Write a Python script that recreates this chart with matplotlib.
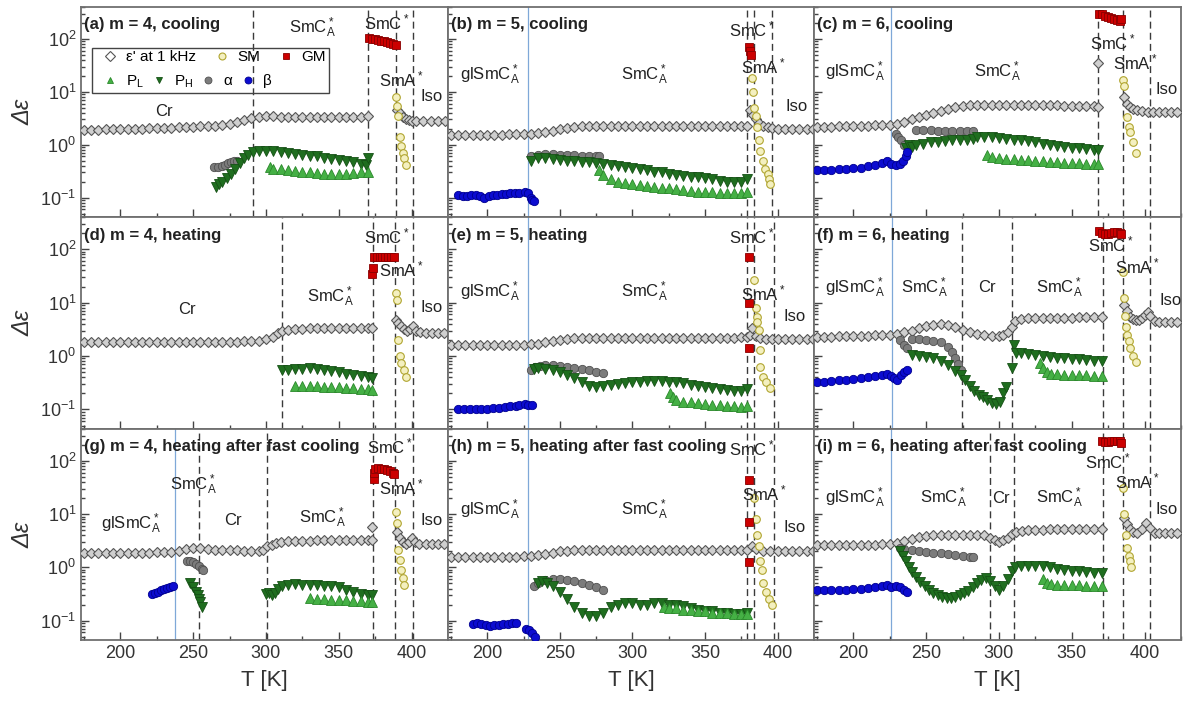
import matplotlib
matplotlib.use('Agg')
import matplotlib.pyplot as plt
from matplotlib.ticker import MultipleLocator, LogLocator, NullFormatter
from matplotlib.lines import Line2D
from matplotlib.patches import Rectangle

plt.rcParams['font.family'] = ['Liberation Sans', 'DejaVu Sans']
plt.rcParams['mathtext.default'] = 'regular'
plt.rcParams['xtick.direction'] = 'in'
plt.rcParams['ytick.direction'] = 'in'

# =============================================================================
# data: (T [K], delta eps)
# =============================================================================
# %% (a) m = 4, cooling
a_eps = [(175,1.9),(180,1.9),(185,1.9),(190,1.95),(195,1.95),(200,1.95),(205,2.0),(210,2.0),(215,2.0),(220,2.05),
         (225,2.05),(230,2.1),(235,2.1),(240,2.15),(245,2.2),(250,2.2),(255,2.25),(260,2.25),(265,2.3),(270,2.4),
         (275,2.5),(280,2.7),(285,2.9),(290,3.2),(295,3.4),(300,3.45),(305,3.45),(310,3.4),(315,3.4),(320,3.4),
         (325,3.4),(330,3.4),(335,3.4),(340,3.4),(345,3.4),(350,3.4),(355,3.4),(360,3.4),(365,3.4),(370,3.45),
         (390,4.6),(392,3.9),(394,3.4),(396,3.1),(398,2.95),(400,2.85),(403,2.8),(408,2.8),(413,2.8),(418,2.8),(423,2.8)]
a_sm = [(389,8),(390,5.5),(391,3.5),(392,1.4),(393,0.95),(394,0.7),(395,0.55),(396,0.42)]
a_gm = [(371,105),(373,100),(375,98),(377,95),(379,93),(381,90),(383,88),(385,85),(387,80),(389,78)]
a_pl = [(303,0.38),(305,0.35),(310,0.34),(315,0.33),(320,0.32),(325,0.31),(330,0.3),(335,0.29),(340,0.28),
        (345,0.28),(350,0.28),(355,0.28),(360,0.29),(365,0.3),(370,0.3)]
a_ph = [(266,0.16),(268,0.18),(270,0.2),(273,0.23),(276,0.28),(279,0.35),(282,0.45),(285,0.55),(288,0.65),
        (291,0.72),(295,0.76),(300,0.77),(305,0.75),(310,0.73),(315,0.7),(320,0.68),(325,0.65),(330,0.62),
        (335,0.6),(340,0.57),(345,0.54),(350,0.52),(355,0.5),(360,0.47),(365,0.44),(369,0.42),(370,0.55)]
a_al = [(264,0.38),(267,0.38),(270,0.4),(272,0.42),(274,0.45),(276,0.48),(278,0.5),(280,0.5)]
a_be = []
a_dash = [291, 370, 389, 401]
a_blue = []
a_text = [(230,4.2,'Cr'),(332,160,'SmC$_A^*$'),(383,200,'SmC$^*$'),(393,17,'SmA$^*$'),(414,8,'Iso')]

# %% (b) m = 5, cooling
b_eps = [(175,1.55),(180,1.55),(185,1.55),(190,1.55),(195,1.55),(200,1.55),(205,1.55),(210,1.55),(215,1.57),
         (220,1.58),(225,1.6),(230,1.62),(235,1.68),(240,1.75),(245,1.85),(250,1.95),(255,2.05),(260,2.15),
         (265,2.22),(270,2.28),(275,2.3),(280,2.3),(285,2.3),(290,2.3),(295,2.3),(300,2.28),(305,2.28),
         (310,2.28),(315,2.28),(320,2.27),(325,2.27),(330,2.27),(335,2.27),(340,2.26),(345,2.26),(350,2.26),
         (355,2.25),(360,2.25),(365,2.25),(370,2.25),(375,2.25),(379,2.3),
         (381,4.6),(383,3.6),(385,3.0),(387,2.6),(390,2.3),(393,2.15),(396,2.05),(400,2.0),(405,2.0),
         (410,2.0),(415,2.0),(420,2.0),(424,2.0)]
b_sm = [(382,18),(383,10),(384,5),(385,3.5),(386,2.2),(387,1.2),(388,0.75),(390,0.5),(391,0.35),(393,0.28),
        (394,0.22),(395,0.18)]
b_gm = [(380,70),(381,60),(381.5,50)]
b_pl = [(277,0.33),(280,0.27),(285,0.22),(290,0.2),(295,0.19),(300,0.18),(305,0.17),(310,0.165),(315,0.16),
        (320,0.155),(325,0.15),(330,0.145),(335,0.14),(340,0.135),(345,0.13),(350,0.13),(355,0.125),(360,0.12),
        (365,0.12),(370,0.12),(375,0.12),(379,0.13)]
b_ph = [(230,0.5),(235,0.55),(240,0.55),(245,0.53),(250,0.52),(255,0.5),(260,0.5),(265,0.48),(270,0.47),
        (275,0.46),(280,0.44),(285,0.42),(290,0.4),(295,0.38),(300,0.36),(305,0.34),(310,0.33),(315,0.31),
        (320,0.3),(325,0.28),(330,0.27),(335,0.26),(340,0.25),(345,0.24),(350,0.23),(355,0.22),(360,0.21),
        (365,0.2),(370,0.2),(375,0.2),(379,0.22)]
b_al = [(230,0.6),(235,0.65),(240,0.66),(245,0.66),(250,0.65),(255,0.64),(260,0.63),(265,0.62),(270,0.62),
        (275,0.6),(277,0.6)]
b_be = [(180,0.11),(183,0.105),(186,0.105),(189,0.11),(192,0.11),(195,0.105),(198,0.1),(201,0.105),(204,0.11),
        (207,0.11),(210,0.115),(213,0.115),(216,0.12),(219,0.12),(222,0.12),(226,0.13),(228,0.12),(230,0.1),
        (231,0.09),(232,0.085)]
b_dash = [379, 384, 396]
b_blue = [228]
b_text = [(202,21,'glSmC$_A^*$'),(308,21,'SmC$_A^*$'),(382,150,'SmC$^*$'),(390,30,'SmA$^*$'),(413,5.2,'Iso')]

# %% (c) m = 6, cooling
c_eps = [(175,2.2),(180,2.2),(185,2.2),(190,2.25),(195,2.25),(200,2.3),(205,2.3),(210,2.3),(215,2.35),(220,2.35),
         (225,2.4),(230,2.5),(235,2.7),(240,3.0),(245,3.3),(250,3.6),(255,3.9),(260,4.3),(265,4.7),(270,5.1),
         (275,5.4),(280,5.6),(285,5.7),(290,5.7),(295,5.7),(300,5.7),(305,5.7),(310,5.65),(315,5.65),(320,5.6),
         (325,5.6),(330,5.6),(335,5.6),(340,5.55),(345,5.5),(350,5.5),(355,5.45),(360,5.4),(365,5.3),(368,5.2),
         (368,35),
         (386,8),(388,6),(390,5.2),(392,4.8),(395,4.5),(398,4.3),(402,4.2),(406,4.2),(410,4.2),(414,4.2),
         (418,4.2),(422,4.2)]
c_sm = [(385,17),(386,13),(388,3.4),(389,2.2),(390,1.7),(392,1.1),(394,0.7)]
c_gm = [(369,300),(371,290),(373,270),(375,260),(377,250),(379,240),(381,230),(383,220),(384,240)]
c_pl = [(292,0.65),(295,0.58),(300,0.56),(305,0.54),(310,0.53),(315,0.52),(320,0.51),(325,0.5),(330,0.49),
        (335,0.48),(340,0.47),(345,0.46),(350,0.45),(355,0.45),(360,0.44),(365,0.44),(368,0.43)]
c_ph = [(236,0.85),(238,1.0),(240,0.9),(243,1.0),(248,1.05),(253,1.1),(258,1.1),(263,1.15),(268,1.2),(273,1.2),
        (278,1.25),(282,1.3),(285,1.4),(290,1.4),(295,1.38),(300,1.35),(305,1.3),(310,1.25),(315,1.2),
        (320,1.15),(325,1.1),(330,1.05),(335,1.0),(340,0.96),(345,0.92),(350,0.88),(355,0.85),(360,0.82),
        (365,0.8),(368,0.78)]
c_al = [(229,1.6),(231,1.4),(233,1.2),(235,1.0),(243,1.9),(248,1.9),(253,1.9),(258,1.85),(263,1.85),(268,1.85),
        (273,1.8),(278,1.8),(282,1.8)]
c_be = [(175,0.33),(180,0.33),(185,0.33),(190,0.34),(195,0.35),(200,0.36),(205,0.37),(210,0.39),(215,0.42),
        (220,0.45),(223,0.5),(226,0.44),(229,0.42),(232,0.43),(234,0.5),(236,0.6),(237,0.72)]
c_dash = [368, 385, 403.5]
c_blue = [226]
c_text = [(201,24,'glSmC$_A^*$'),(299,24,'SmC$_A^*$'),(378,84,'SmC$^*$'),(394,36,'SmA$^*$'),(415,11,'Iso')]

# %% (d) m = 4, heating
d_eps = [(175,1.85),(180,1.85),(185,1.85),(190,1.85),(195,1.85),(200,1.85),(205,1.85),(210,1.85),(215,1.85),
         (220,1.85),(225,1.85),(230,1.85),(235,1.85),(240,1.85),(245,1.85),(250,1.85),(255,1.85),(260,1.85),
         (265,1.85),(270,1.85),(275,1.85),(280,1.85),(285,1.9),(290,1.9),(295,1.95),(300,2.05),(305,2.3),
         (308,2.7),(311,3.0),(315,3.1),(320,3.2),(325,3.25),(330,3.3),(335,3.3),(340,3.3),(345,3.3),(350,3.3),
         (355,3.3),(360,3.3),(365,3.3),(370,3.3),(373,3.3),
         (389,4.8),(391,4.2),(393,3.6),(395,3.2),(397,3.0),(399,3.2),(401,3.6),(403,3.0),(406,2.8),(410,2.7),
         (414,2.7),(418,2.7),(422,2.7)]
d_sm = [(389,15),(390,11),(390.5,2.0),(392,1.0),(393,0.74),(394.5,0.55),(396,0.4)]
d_gm = [(373,35),(373.5,45),(374,70),(376,70),(378,70),(380,70),(382,70),(384,70),(386,70),(388,70)]
d_pl = [(320,0.28),(325,0.27),(330,0.27),(335,0.27),(340,0.26),(345,0.26),(350,0.26),(355,0.25),(360,0.25),
        (365,0.24),(370,0.24),(373,0.23)]
d_ph = [(311,0.55),(315,0.55),(320,0.57),(325,0.58),(330,0.6),(335,0.58),(340,0.55),(345,0.52),(350,0.5),
        (355,0.47),(360,0.44),(365,0.42),(370,0.4),(373,0.38)]
d_al = []
d_be = []
d_dash = [311, 373.5, 388.6, 401]
d_blue = []
d_text = [(246,7.4,'Cr'),(344,13,'SmC$_A^*$'),(383,170,'SmC$^*$'),(393,42,'SmA$^*$'),(414,8,'Iso')]

# %% (e) m = 5, heating
e_eps = [(175,1.6),(180,1.6),(185,1.6),(190,1.6),(195,1.6),(200,1.6),(205,1.6),(210,1.6),(215,1.6),(220,1.6),
         (225,1.6),(230,1.65),(235,1.7),(240,1.8),(245,1.9),(250,2.0),(255,2.1),(260,2.15),(265,2.2),(270,2.2),
         (275,2.2),(280,2.2),(285,2.2),(290,2.2),(295,2.2),(300,2.2),(305,2.2),(310,2.2),(315,2.2),(320,2.2),
         (325,2.2),(330,2.2),(335,2.2),(340,2.2),(345,2.2),(350,2.2),(355,2.2),(360,2.2),(365,2.2),(370,2.2),
         (375,2.25),(379,2.25),
         (381,2.5),(382,3.4),(385,2.4),(388,2.2),(392,2.1),(396,2.1),(400,2.05),(405,2.05),(410,2.05),
         (415,2.05),(420,2.05),(424,2.05)]
e_sm = [(384,27),(385,8),(385.5,5.4),(386,4.4),(387,3.1),(387.5,1.3),(388,0.62),(390,0.4),(392,0.32),(395,0.25)]
e_gm = [(380,70),(380.5,10),(380,1.4)]
e_pl = [(326,0.2),(328,0.17),(330,0.15),(335,0.14),(340,0.135),(345,0.13),(350,0.125),(355,0.12),(360,0.12),
        (365,0.115),(370,0.115),(375,0.11),(379,0.115)]
e_ph = [(232,0.58),(235,0.6),(240,0.58),(245,0.55),(250,0.5),(255,0.45),(260,0.38),(265,0.32),(270,0.28),
        (275,0.26),(280,0.27),(285,0.29),(290,0.3),(295,0.31),(300,0.32),(305,0.33),(310,0.34),(315,0.34),
        (320,0.34),(325,0.33),(330,0.32),(335,0.31),(340,0.29),(345,0.28),(350,0.26),(355,0.25),(360,0.24),
        (365,0.23),(370,0.22),(375,0.22),(379,0.24)]
e_al = [(230,0.55),(233,0.62),(236,0.66),(240,0.68),(245,0.67),(250,0.65),(255,0.63),(260,0.6),(265,0.57),
        (270,0.54),(275,0.51),(280,0.48)]
e_be = [(180,0.1),(184,0.1),(188,0.1),(192,0.1),(196,0.1),(200,0.1),(204,0.105),(208,0.105),(212,0.11),
        (216,0.115),(220,0.115),(222,0.12),(226,0.125),(228,0.12),(231,0.12)]
e_dash = [379, 384, 397.5]
e_blue = [228]
e_text = [(202,16,'glSmC$_A^*$'),(308,16,'SmC$_A^*$'),(382,170,'SmC$^*$'),(390,15,'SmA$^*$'),(412,5.4,'Iso')]

# %% (f) m = 6, heating
f_eps = [(175,2.3),(180,2.3),(185,2.3),(190,2.35),(195,2.35),(200,2.4),(205,2.4),(210,2.4),(215,2.45),(220,2.45),
         (225,2.5),(230,2.6),(235,2.8),(240,3.0),(245,3.3),(250,3.6),(255,3.8),(260,3.9),(265,3.8),(270,3.5),
         (275,3.1),(280,2.8),(285,2.6),(290,2.5),(295,2.4),(300,2.4),(303,2.5),(306,2.8),(309,3.5),(311,4.5),
         (315,5.0),(320,5.1),(325,5.2),(330,5.2),(335,5.2),(340,5.2),(345,5.25),(350,5.25),(355,5.3),(360,5.3),
         (365,5.3),(371,5.3),
         (386,9.2),(388,7),(390,5.4),(392,5.0),(394,4.8),(396,4.7),(398,5.2),(400,5.8),(402,6.8),(404,5.5),
         (407,4.6),(410,4.4),(414,4.4),(418,4.4),(422,4.4)]
f_sm = [(385,37),(386,12),(386.5,5.5),(387,3.5),(388,2.5),(389,1.9),(390,1.4),(392,1.0),(394,0.78)]
f_gm = [(369,220),(371,200),(373,190),(375,190),(377,200),(379,210),(381,210),(383,200),(384,190)]
f_pl = [(328,0.75),(330,0.6),(333,0.5),(336,0.47),(340,0.46),(345,0.45),(350,0.45),(355,0.44),(360,0.44),
        (365,0.43),(371,0.43)]
f_ph = [(240,1.05),(245,1.0),(250,0.97),(255,0.92),(260,0.82),(265,0.68),(270,0.52),(274,0.45),(277,0.35),
        (280,0.27),(283,0.22),(286,0.19),(289,0.17),(292,0.15),(295,0.13),(298,0.125),(301,0.14),(303,0.2),
        (305,0.26),(309,0.6),(310,1.6),(312,1.15),(315,1.15),(320,1.1),(325,1.05),(330,1.0),(335,0.95),
        (340,0.92),(345,0.9),(350,0.88),(355,0.86),(360,0.84),(365,0.82),(371,0.82)]
f_al = [(232,2.0),(235,1.6),(237,1.4),(240,2.1),(245,2.1),(250,2.0),(255,1.95),(260,1.8),(265,1.5),(268,1.2),
        (270,0.9),(272,0.7),(274,0.55)]
f_be = [(175,0.33),(180,0.33),(185,0.34),(190,0.35),(195,0.36),(200,0.37),(205,0.38),(210,0.4),(215,0.42),
        (220,0.45),(223,0.47),(226,0.42),(228,0.38),(230,0.36),(233,0.45),(235,0.5),(237,0.55)]
f_dash = [274.5, 309, 371.5, 385, 403.5]
f_blue = [226.5]
f_text = [(201,19,'glSmC$_A^*$'),(249,19,'SmC$_A^*$'),(291.5,19,'Cr'),(341.5,19,'SmC$_A^*$'),
          (377,120,'SmC$^*$'),(395,48,'SmA$^*$'),(418,11,'Iso')]

# %% (g) m = 4, heating after fast cooling
g_eps = [(175,1.9),(180,1.9),(185,1.9),(190,1.9),(195,1.9),(200,1.9),(205,1.9),(210,1.9),(215,1.9),(220,1.9),
         (225,1.95),(230,1.95),(235,1.95),(240,2.05),(245,2.2),(250,2.3),(255,2.3),(260,2.2),(265,2.15),
         (270,2.1),(275,2.1),(280,2.1),(285,2.05),(290,2.05),(295,2.05),(298,2.1),(301,2.5),(304,2.6),
         (307,2.9),(310,3.0),(315,3.1),(320,3.1),(325,3.15),(330,3.15),(335,3.2),(340,3.2),(345,3.2),(350,3.2),
         (355,3.2),(360,3.2),(365,3.2),(370,3.2),(373,3.2),(373,5.7),
         (390,4.6),(392,3.6),(394,3.0),(396,2.8),(398,3.0),(400,3.5),(402,3.0),(405,2.8),(410,2.8),(414,2.8),
         (418,2.8),(422,2.8)]
g_sm = [(389,11),(390,6.7),(391,2.1),(392,1.35),(393,0.88),(394,0.62),(395,0.46)]
g_gm = [(374,45),(374,60),(375,70),(377,75),(379,72),(381,70),(383,68),(385,65),(387,60),(388,58)]
g_pl = [(330,0.26),(335,0.25),(340,0.25),(345,0.24),(350,0.24),(355,0.24),(360,0.23),(365,0.23),(370,0.22),
        (373,0.22)]
g_ph = [(248,0.5),(250,0.42),(252,0.35),(253,0.3),(254,0.25),(255,0.22),(256,0.18),
        (300,0.32),(302,0.33),(304,0.3),(306,0.33),(308,0.4),(311,0.45),(315,0.47),(320,0.48),(325,0.47),
        (330,0.46),(335,0.46),(340,0.45),(345,0.44),(350,0.42),(355,0.38),(360,0.35),(365,0.32),(370,0.3),
        (373,0.3)]
g_al = [(246,1.3),(248,1.3),(250,1.25),(252,1.15),(254,1.05),(256,0.95),(257,0.88)]
g_be = [(222,0.32),(224,0.33),(226,0.35),(228,0.37),(230,0.39),(232,0.41),(234,0.43),(236,0.45)]
g_dash = [254, 300.7, 373.5, 388.6, 401]
g_blue = [237.6]
g_text = [(207,6.7,'glSmC$_A^*$'),(250,35,'SmC$_A^*$'),(277,7.7,'Cr'),(339,8.4,'SmC$_A^*$'),
          (385,184,'SmC$^*$'),(393,32,'SmA$^*$'),(414,7.7,'Iso')]

# %% (h) m = 5, heating after fast cooling
h_eps = [(175,1.55),(180,1.55),(185,1.55),(190,1.55),(195,1.55),(200,1.55),(205,1.55),(210,1.55),(215,1.55),
         (220,1.58),(225,1.6),(230,1.62),(235,1.7),(240,1.8),(245,1.9),(250,2.0),(255,2.05),(260,2.1),
         (265,2.1),(270,2.1),(275,2.1),(280,2.1),(285,2.1),(290,2.1),(295,2.1),(300,2.1),(305,2.1),(310,2.1),
         (315,2.1),(320,2.1),(325,2.1),(330,2.1),(335,2.1),(340,2.1),(345,2.1),(350,2.1),(355,2.1),(360,2.1),
         (365,2.1),(370,2.1),(375,2.1),(379,2.1),
         (382,2.5),(385,2.2),(390,2.05),(395,2.05),(400,2.0),(405,2.0),(410,2.0),(415,2.0),(420,2.0),(424,2.0)]
h_sm = [(384,20),(385,8),(386,4),(387,2.5),(388,1.3),(389,0.9),(390,0.5),(392,0.35),(394,0.25),(396,0.2)]
h_gm = [(380,44),(380,7),(380,1.25)]
h_pl = [(322,0.18),(325,0.17),(330,0.17),(335,0.16),(340,0.16),(345,0.15),(350,0.15),(355,0.14),(360,0.14),
        (365,0.14),(370,0.13),(375,0.13),(379,0.13)]
h_ph = [(235,0.5),(238,0.55),(241,0.5),(245,0.45),(250,0.35),(255,0.25),(260,0.18),(265,0.14),(270,0.12),
        (275,0.12),(280,0.14),(285,0.18),(290,0.2),(295,0.21),(300,0.21),(305,0.2),(310,0.2),(315,0.21),
        (320,0.21),(325,0.2),(330,0.2),(335,0.19),(340,0.17),(345,0.16),(350,0.15),(355,0.15),(360,0.14),
        (365,0.14),(370,0.13),(375,0.13),(379,0.14)]
h_al = [(232,0.45),(235,0.5),(240,0.57),(245,0.6),(250,0.6),(255,0.58),(260,0.55),(265,0.5),(270,0.46),
        (275,0.42),(280,0.38)]
h_be = [(190,0.085),(193,0.09),(196,0.085),(199,0.082),(202,0.08),(205,0.083),(208,0.082),(211,0.085),
        (214,0.087),(217,0.09),(220,0.09),(227,0.07),(229,0.065),(231,0.058),(233,0.05)]
h_dash = [379, 384, 397.5]
h_blue = [228]
h_text = [(202,12,'glSmC$_A^*$'),(308,12,'SmC$_A^*$'),(382,170,'SmC$^*$'),(391,25,'SmA$^*$'),(412,5.7,'Iso')]

# %% (i) m = 6, heating after fast cooling
i_eps = [(175,2.6),(180,2.6),(185,2.6),(190,2.6),(195,2.6),(200,2.6),(205,2.65),(210,2.65),(215,2.65),(220,2.7),
         (225,2.7),(230,2.9),(235,3.1),(240,3.4),(245,3.7),(250,3.9),(255,4.0),(260,4.1),(265,4.1),(270,4.1),
         (275,4.1),(280,4.1),(285,4.05),(290,4.0),(294,3.6),(297,3.2),(300,3.0),(303,3.2),(306,3.6),(309,4.2),
         (312,4.6),(316,4.9),(320,5.0),(325,5.1),(330,5.1),(335,5.2),(340,5.2),(345,5.2),(350,5.25),(355,5.3),
         (360,5.3),(365,5.3),(371,5.3),
         (386,8.4),(388,6.5),(390,5.3),(392,4.7),(395,4.5),(398,5.2),(401,6.7),(404,5.5),(407,4.5),(410,4.4),
         (414,4.4),(418,4.4),(422,4.4)]
i_sm = [(385,31),(386,10),(387,4),(388,2.3),(389,1.6),(390,1.3),(391,1.0)]
i_gm = [(371,240),(373,230),(375,230),(377,235),(379,240),(381,240),(383,235),(384,220)]
i_pl = [(330,0.6),(333,0.5),(336,0.48),(340,0.47),(345,0.47),(350,0.46),(355,0.46),(360,0.45),(365,0.45),
        (371,0.45)]
i_ph = [(232,2.0),(234,1.6),(236,1.3),(238,1.0),(240,0.8),(243,0.65),(246,0.52),(249,0.44),(252,0.38),
        (255,0.33),(258,0.3),(261,0.28),(264,0.27),(267,0.27),(270,0.28),(273,0.3),(276,0.33),(279,0.36),
        (282,0.42),(285,0.5),(288,0.58),(291,0.62),(294,0.55),(297,0.45),(300,0.38),(303,0.45),(306,0.6),
        (309,0.85),(311,1.0),(315,1.05),(320,1.08),(325,1.08),(330,1.05),(335,1.0),(340,0.95),(345,0.9),
        (350,0.87),(355,0.84),(360,0.8),(365,0.78),(371,0.78)]
i_al = [(232,2.3),(235,2.2),(240,2.1),(245,2.0),(250,1.95),(255,1.9),(260,1.85),(265,1.75),(270,1.7),
        (275,1.6),(280,1.55),(282,1.55)]
i_be = [(175,0.37),(180,0.37),(185,0.37),(190,0.38),(195,0.38),(200,0.39),(205,0.4),(210,0.41),(215,0.42),
        (220,0.44),(223,0.46),(226,0.43),(229,0.44),(232,0.42),(235,0.38),(237,0.35)]
i_dash = [294, 310, 371.5, 385, 403.5]
i_blue = [226]
i_text = [(201,20,'glSmC$_A^*$'),(262,20,'SmC$_A^*$'),(301.5,20,'Cr'),(341.5,20,'SmC$_A^*$'),
          (375,100,'SmC$^*$'),(395,42,'SmA$^*$'),(415,12,'Iso')]

titles = ['(a) m = 4, cooling', '(b) m = 5, cooling', '(c) m = 6, cooling',
          '(d) m = 4, heating', '(e) m = 5, heating', '(f) m = 6, heating',
          '(g) m = 4, heating after fast cooling', '(h) m = 5, heating after fast cooling',
          '(i) m = 6, heating after fast cooling']

# =============================================================================
# marker styles
# =============================================================================
sty = {
    'eps': dict(marker='D', ms=5.5, mfc='#cfcfcf', mec='#555555', mew=0.8),
    'al':  dict(marker='o', ms=6.0, mfc='#7c7c7c', mec='#505050', mew=0.6),
    'ph':  dict(marker='v', ms=6.5, mfc='#1f6e1f', mec='#155015', mew=0.6),
    'pl':  dict(marker='^', ms=6.5, mfc='#45b045', mec='#2a882a', mew=0.6),
    'be':  dict(marker='o', ms=6.0, mfc='#0c0cd0', mec='#000090', mew=0.6),
    'sm':  dict(marker='o', ms=5.5, mfc='#f4f0c0', mec='#b0a530', mew=0.8),
    'gm':  dict(marker='s', ms=5.5, mfc='#cc0000', mec='#880000', mew=0.6),
}

panels = [
    (a_eps, a_al, a_ph, a_pl, a_be, a_sm, a_gm, a_dash, a_blue, a_text),
    (b_eps, b_al, b_ph, b_pl, b_be, b_sm, b_gm, b_dash, b_blue, b_text),
    (c_eps, c_al, c_ph, c_pl, c_be, c_sm, c_gm, c_dash, c_blue, c_text),
    (d_eps, d_al, d_ph, d_pl, d_be, d_sm, d_gm, d_dash, d_blue, d_text),
    (e_eps, e_al, e_ph, e_pl, e_be, e_sm, e_gm, e_dash, e_blue, e_text),
    (f_eps, f_al, f_ph, f_pl, f_be, f_sm, f_gm, f_dash, f_blue, f_text),
    (g_eps, g_al, g_ph, g_pl, g_be, g_sm, g_gm, g_dash, g_blue, g_text),
    (h_eps, h_al, h_ph, h_pl, h_be, h_sm, h_gm, h_dash, h_blue, h_text),
    (i_eps, i_al, i_ph, i_pl, i_be, i_sm, i_gm, i_dash, i_blue, i_text),
]
keys = ['eps', 'al', 'ph', 'pl', 'be', 'sm', 'gm']

# =============================================================================
# figure, axes placed in pixels
# =============================================================================
W, H = 1184, 706
fig = plt.figure(figsize=(W/100, H/100), dpi=100)
colx = [(81, 448), (448, 814), (814, 1181)]
rowy = [(7, 217), (217, 429), (429, 640)]

frame = '#707070'
for k, pan in enumerate(panels):
    r, c = divmod(k, 3)
    x0, x1 = colx[c]
    y0, y1 = rowy[r]
    ax = fig.add_axes([x0/W, 1 - y1/H, (x1 - x0)/W, (y1 - y0)/H])
    ax.set_yscale('log')

    for xv in pan[7]:
        ax.axvline(xv, color='#3a3a3a', lw=1.0, ls=(0, (5, 3)), zorder=1)
    for xv in pan[8]:
        ax.axvline(xv, color='#7fa8d8', lw=0.9, zorder=1)

    for key, ser in zip(keys, pan[:7]):
        if len(ser) == 0:
            continue
        T = [p[0] for p in ser]
        v = [p[1] for p in ser]
        ax.plot(T, v, ls='none', zorder=3, **sty[key])

    for tx, ty, s in pan[9]:
        ax.text(tx, ty, s, ha='center', va='center', fontsize=12, color='#222222', zorder=5)

    ax.text(0.008, 0.915, titles[k], transform=ax.transAxes, ha='left', va='center',
            fontsize=12, fontweight='bold', color='#222222', zorder=6)

    ax.set_xlim(173, 425)
    ax.set_ylim(0.043, 400)
    ax.xaxis.set_major_locator(MultipleLocator(50))
    ax.xaxis.set_minor_locator(MultipleLocator(25))
    ax.yaxis.set_major_locator(LogLocator(base=10, numticks=10))
    ax.yaxis.set_minor_locator(LogLocator(base=10, subs=(2, 3, 4, 5, 6, 7, 8, 9), numticks=20))
    ax.yaxis.set_minor_formatter(NullFormatter())
    ax.tick_params(which='both', color='#444444', width=1.0, labelsize=13, labelcolor='#333333')
    ax.tick_params(which='major', length=6)
    ax.tick_params(which='minor', length=3)
    for sp in ax.spines.values():
        sp.set_color(frame)
        sp.set_linewidth(1.3)

    if c == 0:
        ax.set_ylabel('Δε', fontsize=17, fontstyle='italic', color='#333333', labelpad=4)
    else:
        ax.tick_params(labelleft=False)
    if r == 2:
        ax.set_xlabel('T [K]', fontsize=16, color='#333333', labelpad=6)
    else:
        ax.tick_params(labelbottom=False)

    # =========================================================================
    # legend in panel (a)
    # =========================================================================
    if k == 0:
        names = {'eps': "ε' at 1 kHz", 'sm': 'SM', 'gm': 'GM',
                 'pl': 'P$_L$', 'ph': 'P$_H$', 'al': 'α', 'be': 'β'}
        lsty = {n: dict(sty[n], ms=5.0) for n in sty}
        lsty['eps']['mfc'] = 'white'
        h1 = [Line2D([], [], ls='none', **lsty[n]) for n in ['eps', 'sm', 'gm']]
        h2 = [Line2D([], [], ls='none', **lsty[n]) for n in ['pl', 'ph', 'al', 'be']]
        leg1 = ax.legend(h1, [names[n] for n in ['eps', 'sm', 'gm']], ncol=3, frameon=False,
                         loc='center left', bbox_to_anchor=(0.03, 0.76), fontsize=11,
                         handlelength=1.0, handletextpad=0.5, columnspacing=1.2, borderpad=0.2)
        ax.add_artist(leg1)
        ax.legend(h2, [names[n] for n in ['pl', 'ph', 'al', 'be']], ncol=4, frameon=False,
                  loc='center left', bbox_to_anchor=(0.03, 0.645), fontsize=11,
                  handlelength=1.0, handletextpad=0.5, columnspacing=0.5, borderpad=0.2)
        ax.add_patch(Rectangle((0.03, 0.59), 0.645, 0.215, transform=ax.transAxes,
                               fill=False, ec='#444444', lw=1.0, zorder=6))

fig.savefig('out.png', dpi=100)
